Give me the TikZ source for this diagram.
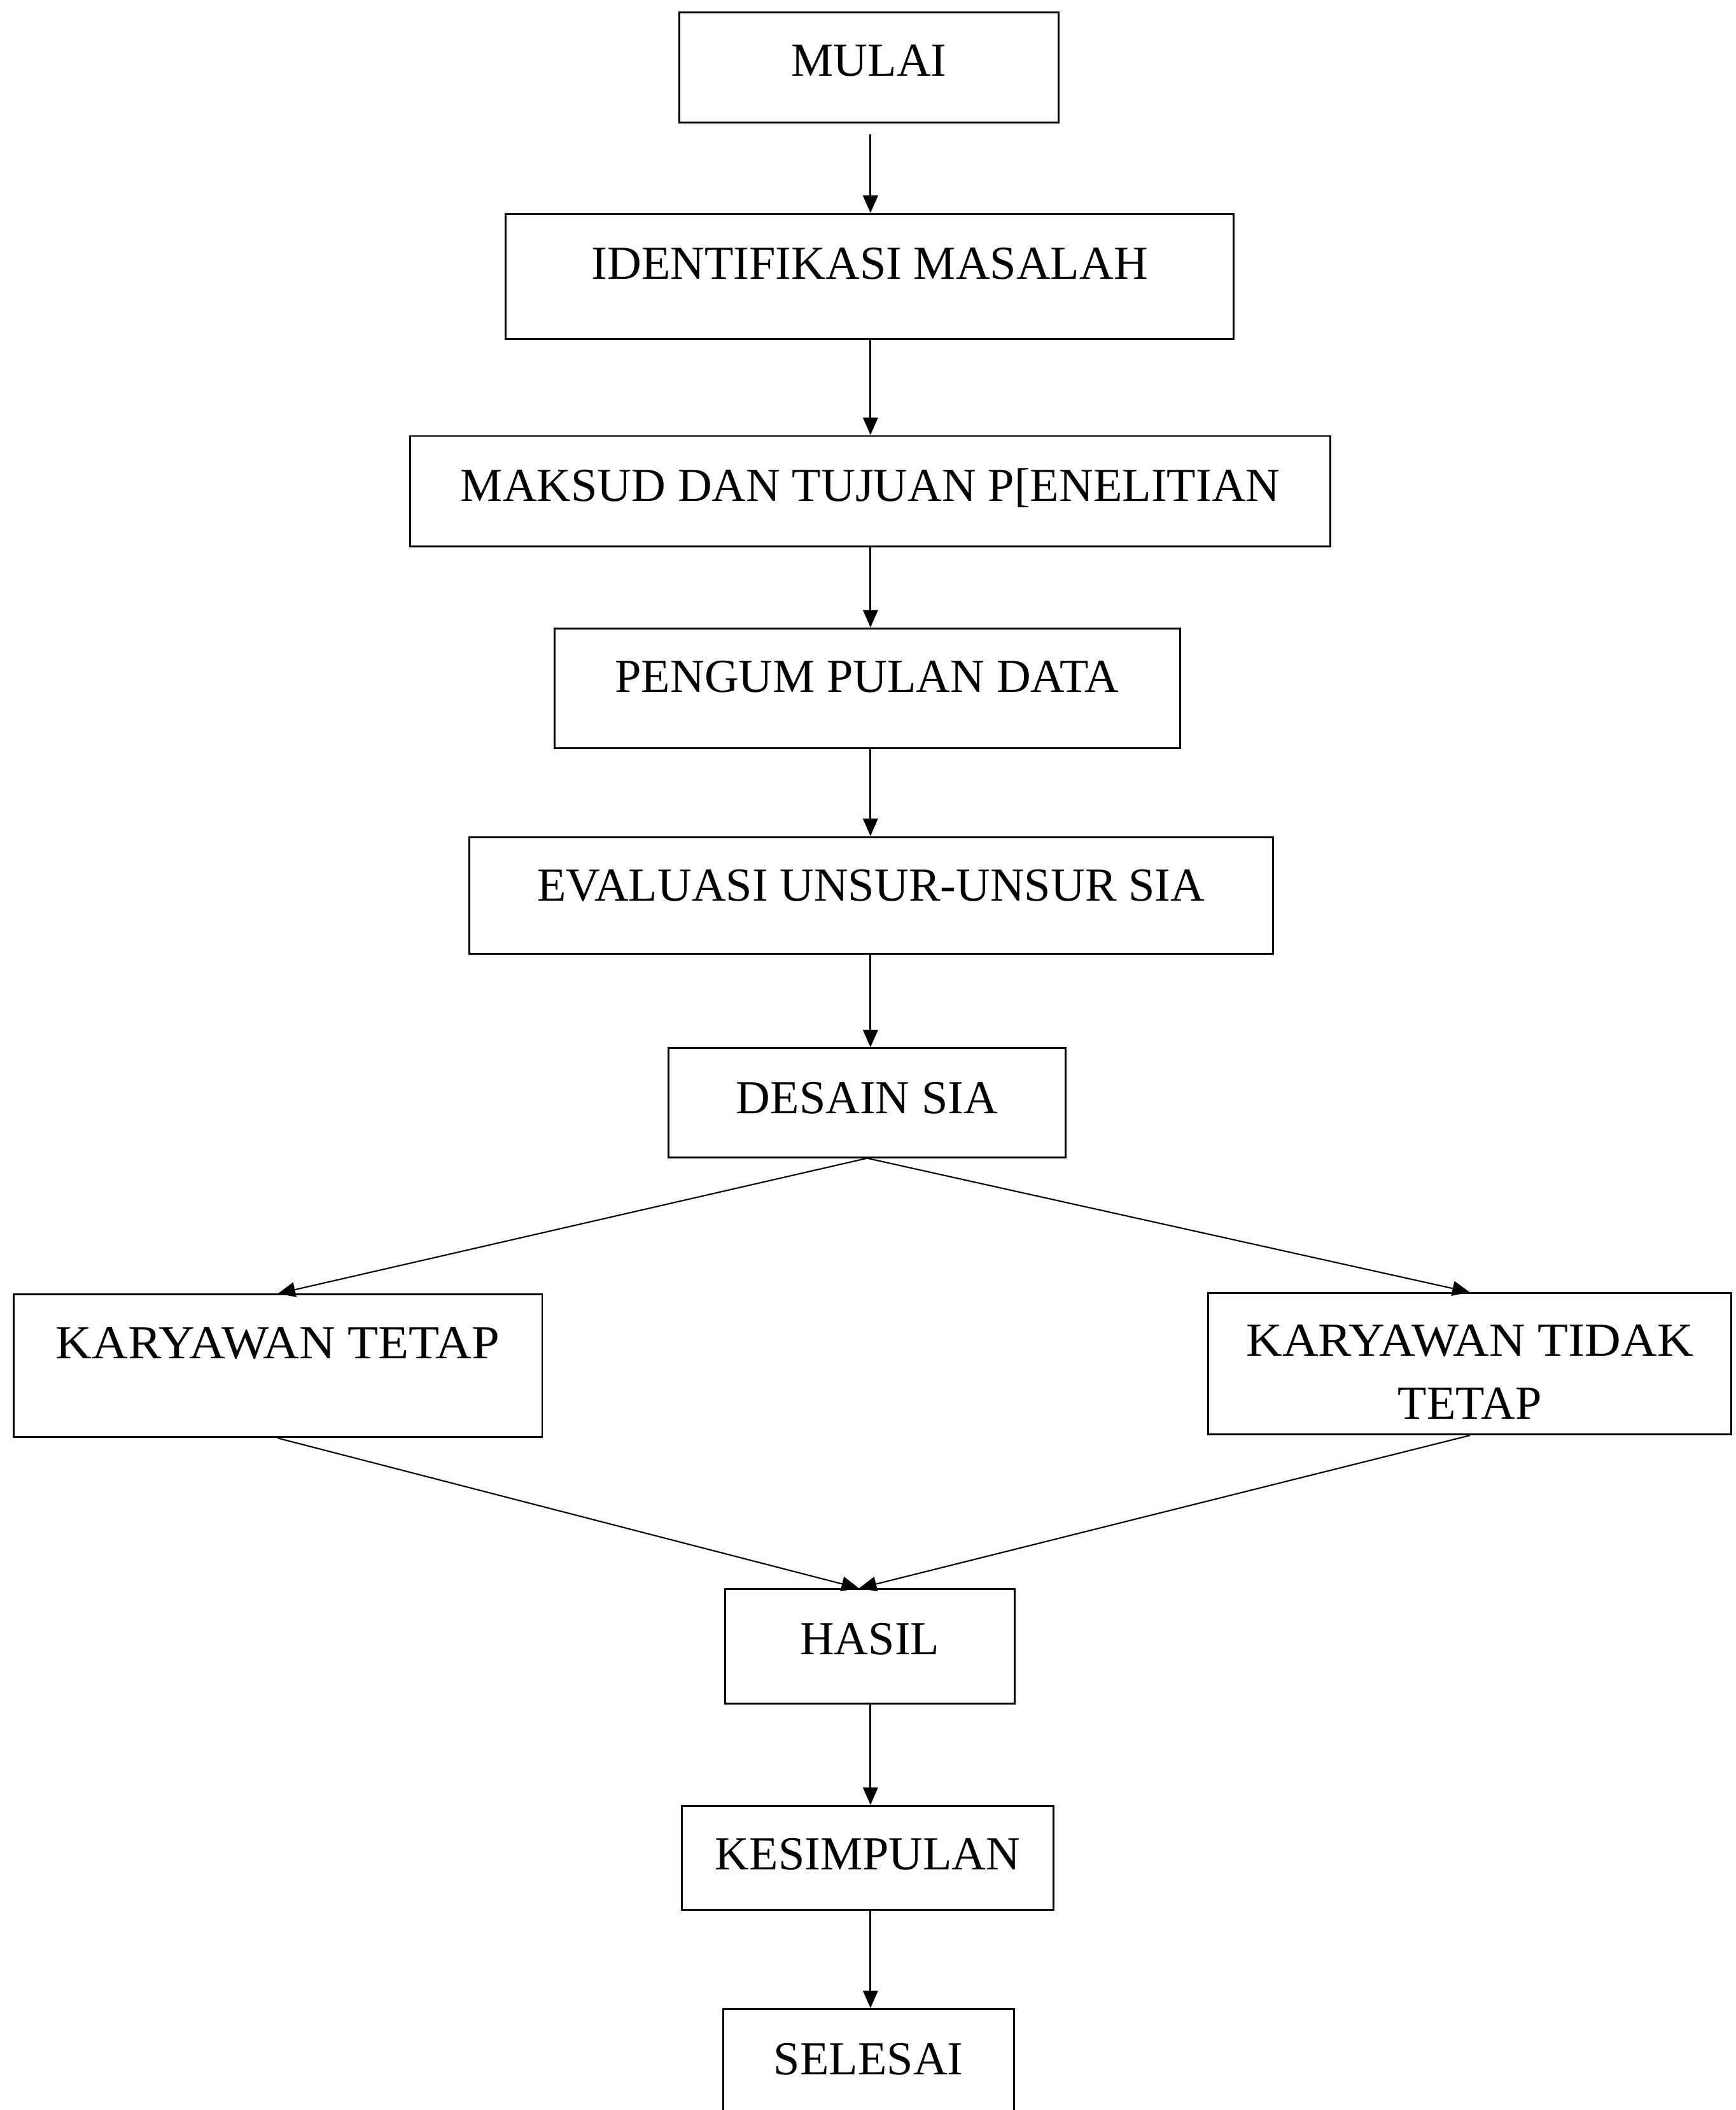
\documentclass[tikz,border=0pt]{standalone}
\usepackage{fontspec}
\usepackage{graphicx}
\setmainfont{Liberation Serif}
\usetikzlibrary{arrows.meta}
\begin{document}
\begin{tikzpicture}[x=0.5pt,y=-0.5pt,
  box/.style={draw, line width=0.7pt, rectangle, inner sep=0pt, text height=11.6pt,
    font=\fontsize{17.6pt}{23.5pt}\selectfont},
  arr/.style={line width=0.7pt, -{Triangle[length=6.5pt,width=5.5pt]}},
  diag/.style={line width=0.5pt, -{Triangle[length=6.5pt,width=5.5pt]}}]
\clip (0,0) rectangle (1290,1568);
\fill[white] (0,0) rectangle (1290,1568);
\coordinate (axis) at (647,0);

\node[box, minimum width=141pt, minimum height=41pt, text depth=5pt] (mulai) at (646,50) {MULAI};
\node[box, minimum width=270.5pt, minimum height=46.5pt, text depth=9.5pt] (ident) at (646.5,205.5) {IDENTIFIKASI MASALAH};
\node[box, minimum width=342pt, minimum height=41pt, text depth=4pt] (maksud) at (647,365) {MAKSUD DAN TUJUAN P[ENELITIAN};
\node[box, minimum width=232.5pt, minimum height=44.5pt, text depth=8.5pt] (kumpul) at (644.5,511.5) {PENGUM PULAN DATA};
\node[box, minimum width=298.5pt, minimum height=43.5pt, text depth=7.5pt] (evaluasi) at (647.5,665.5) {EVALUASI UNSUR-UNSUR SIA};
\node[box, minimum width=147.5pt, minimum height=40.5pt, text depth=3.5pt] (desain) at (644.5,819.5) {DESAIN SIA};
\node[box, minimum width=196.5pt, minimum height=53pt, text depth=17pt] (tetap) at (206.5,1015) {\scalebox{1.057}[1]{KARYAWAN TETAP}};
\node[box, minimum width=194.5pt, minimum height=52.5pt, text height=41pt, text depth=0pt, align=center] (tidak) at (1092.5,1013.5) {\scalebox{1.055}[1]{KARYAWAN TIDAK}\\TETAP};
\node[box, minimum width=107.5pt, minimum height=42.5pt, text depth=5.5pt] (hasil) at (646.5,1223.5) {HASIL};
\node[box, minimum width=138pt, minimum height=38.5pt, text depth=2.5pt] (kesimpulan) at (645,1380.5) {KESIMPULAN};
\node[box, minimum width=108pt, minimum height=40pt, text depth=3pt] (selesai) at (645.5,1533) {SELESAI};

\draw[arr, shorten <=4pt] (mulai.south -| axis) -- (ident.north -| axis);
\draw[arr] (ident.south -| axis) -- (maksud.north -| axis);
\draw[arr] (maksud.south -| axis) -- (kumpul.north -| axis);
\draw[arr] (kumpul.south -| axis) -- (evaluasi.north -| axis);
\draw[arr] (evaluasi.south -| axis) -- (desain.north -| axis);
\draw[diag] (desain.south) -- (tetap.north);
\draw[diag] (desain.south) -- (tidak.north);
\draw[diag] (tetap.south) -- ([xshift=-4]hasil.north);
\draw[diag] (tidak.south) -- ([xshift=-4]hasil.north);
\draw[arr] (hasil.south -| axis) -- (kesimpulan.north -| axis);
\draw[arr] (kesimpulan.south -| axis) -- (selesai.north -| axis);
\end{tikzpicture}
\end{document}
